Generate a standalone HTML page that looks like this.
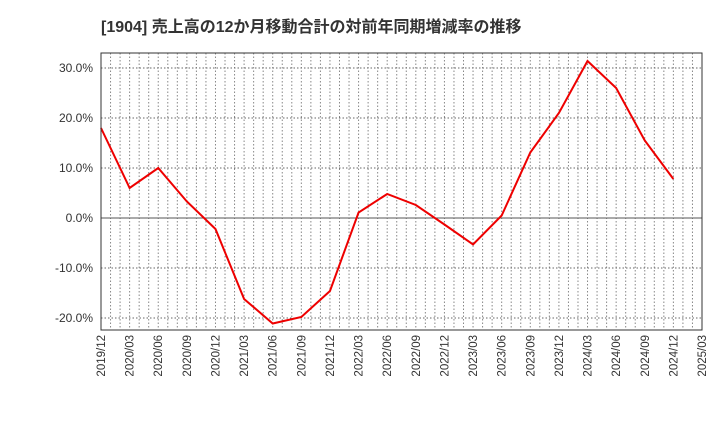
<!DOCTYPE html>
<html><head><meta charset="utf-8"><style>
body{margin:0;background:#fff;}
svg text{font-family:"Liberation Sans","Noto Sans CJK JP",sans-serif;}
</style></head><body>
<svg id="chart" width="720" height="440" xmlns="http://www.w3.org/2000/svg">
<text x="101" y="32" font-size="16" font-weight="bold" fill="#333">[1904]  売上高の12か月移動合計の対前年同期増減率の推移</text>
<g id="grid"></g>
<g id="axes"></g>
<polyline id="line" fill="none" stroke="#ee0000" stroke-width="2"/>
<rect x="101" y="53" width="601" height="277" fill="none" stroke="#333" stroke-width="1"/>
</svg>
<script>
const categories=["2019/12","2020/03","2020/06","2020/09","2020/12","2021/03","2021/06","2021/09","2021/12","2022/03","2022/06","2022/09","2022/12","2023/03","2023/06","2023/09","2023/12","2024/03","2024/06","2024/09","2024/12","2025/03"];
const values=[18.0,6.0,10.0,3.3,-2.2,-16.2,-21.1,-19.8,-14.6,1.1,4.8,2.6,-1.3,-5.3,0.5,13.1,21.0,31.4,26.0,15.5,7.8];
const yTicks=[30,20,10,0,-10,-20];
const yTickLabels=["30.0%","20.0%","10.0%","0.0%","-10.0%","-20.0%"];
const X0=101,X1=702,Y0=53,Y1=330;
const ns="http://www.w3.org/2000/svg";
function xq(i){return X0+(X1-X0)*i/(categories.length-1);}
function y(v){return 218-v*5;}
const grid=document.getElementById('grid'),axes=document.getElementById('axes');
for(let m=1;m<(categories.length-1)*3;m++){
 const l=document.createElementNS(ns,'line');
 
 
 const x=X0+(X1-X0)*m/((categories.length-1)*3);
 l.setAttribute('x1',x);l.setAttribute('x2',x);l.setAttribute('y1',Y0);l.setAttribute('y2',Y1);
 l.setAttribute('stroke','#888');l.setAttribute('stroke-dasharray','1.5,2');l.setAttribute('stroke-width','1');
 grid.appendChild(l);
}
yTicks.forEach((t,i)=>{
 const l=document.createElementNS(ns,'line');
 
 
 l.setAttribute('x1',X0);l.setAttribute('x2',X1);l.setAttribute('y1',y(t));l.setAttribute('y2',y(t));
 l.setAttribute('stroke',t===0?'#555':'#666');l.setAttribute('stroke-dasharray',t===0?'':'1.5,2');
 grid.appendChild(l);
 const tx=document.createElementNS(ns,'text');
 
 
 tx.setAttribute('x',X0-8);tx.setAttribute('y',y(t)+4);tx.setAttribute('text-anchor','end');
 tx.setAttribute('font-size','12');tx.setAttribute('fill','#333');tx.textContent=yTickLabels[i];
 axes.appendChild(tx);
});
categories.forEach((c,i)=>{
 const tx=document.createElementNS(ns,'text');
 
 
 const x=xq(i)+4;
 tx.setAttribute('transform',`translate(${x},${Y1+5}) rotate(-90)`);
 tx.setAttribute('text-anchor','end');tx.setAttribute('font-size','11.5');tx.setAttribute('fill','#333');
 tx.textContent=c;axes.appendChild(tx);
});
document.getElementById('line').setAttribute('points',values.map((v,i)=>xq(i)+','+y(v)).join(' '));
</script>
</body></html>
